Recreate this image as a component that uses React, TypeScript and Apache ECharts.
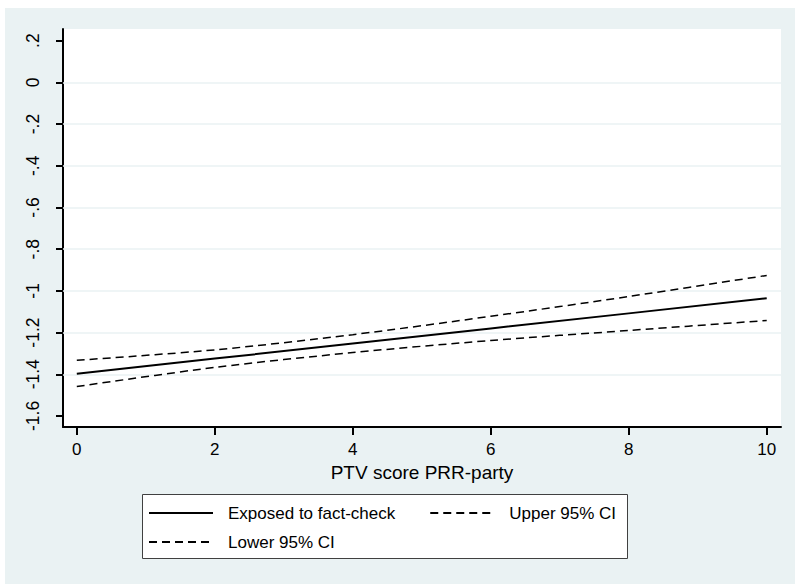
import React, { useEffect, useRef } from "react";
import * as echarts from "echarts";

const xValues = [0, 2, 4, 6, 8, 10];
const exposed = [-1.398, -1.325, -1.253, -1.18, -1.108, -1.035];
const upper = [-1.333, -1.283, -1.21, -1.122, -1.027, -0.926];
const lower = [-1.459, -1.367, -1.296, -1.238, -1.19, -1.142];
const yTicks = [-1.6, -1.4, -1.2, -1, -0.8, -0.6, -0.4, -0.2, 0, 0.2];
const yGrid = [-1.4, -1.2, -1, -0.8, -0.6, -0.4, -0.2, 0];
const xTicks = [0, 2, 4, 6, 8, 10];
const names = ["Exposed to fact-check", "Upper 95% CI", "Lower 95% CI"];

const FONT = "Liberation Sans, Arial, Helvetica, sans-serif";
const BG = "#EAF2F3";

function fmtY(v: number): string {
  const r = Math.round(v * 10) / 10;
  let s = r.toString();
  s = s.replace(/^(-?)0\./, "$1.");
  return s;
}

export default function App() {
  const ref = useRef<HTMLDivElement>(null);
  useEffect(() => {
    if (!ref.current) return;
    const chart = echarts.init(ref.current, undefined, { renderer: "svg" });
    const pair = (ys: number[]) => xValues.map((x, i) => [x, ys[i]]);
    const legendText = { fontSize: 17, color: "#000", fontFamily: FONT, lineHeight: 20, padding: [0, 0, 0, 10] };
    chart.setOption({
      animation: false,
      backgroundColor: BG,
      textStyle: { fontFamily: FONT },
      grid: {
        left: 58,
        top: 21,
        width: 718,
        height: 398,
        show: true,
        backgroundColor: "#ffffff",
        borderWidth: 0,
      },
      xAxis: {
        type: "value",
        min: -0.2,
        max: 10.207,
        name: "PTV score PRR-party",
        nameLocation: "middle",
        nameGap: 36,
        nameTextStyle: { fontSize: 19, color: "#000", fontFamily: FONT },
        axisLine: { show: true, onZero: false, lineStyle: { color: "#000", width: 2 } },
        axisTick: { show: true, length: 8, customValues: xTicks, lineStyle: { color: "#000", width: 2 } },
        axisLabel: {
          customValues: xTicks,
          fontSize: 17,
          color: "#000",
          margin: 14,
          fontFamily: FONT,
          formatter: (v: number) => String(v),
        },
        splitLine: { show: false },
      },
      yAxis: {
        type: "value",
        min: -1.653,
        max: 0.256,
        axisLine: { show: true, onZero: false, lineStyle: { color: "#000", width: 2 } },
        axisTick: { show: true, length: 7, customValues: yTicks, lineStyle: { color: "#000", width: 2 } },
        axisLabel: {
          customValues: yTicks,
          rotate: 90,
          fontSize: 17.5,
          color: "#000",
          margin: 21,
          fontFamily: FONT,
          formatter: (v: number) => fmtY(v),
        },
        splitLine: { show: false },
      },
      legend: [
        {
          data: [names[0], names[1]],
          left: 143,
          top: 495,
          orient: "horizontal",
          padding: 0,
          itemWidth: 64,
          itemHeight: 14,
          itemGap: 34,
          itemStyle: { opacity: 0 },
          textStyle: legendText,
        },
        {
          data: [names[2]],
          left: 143,
          top: 524,
          orient: "horizontal",
          padding: 0,
          itemWidth: 64,
          itemHeight: 14,
          itemStyle: { opacity: 0 },
          textStyle: legendText,
        },
      ],
      graphic: [
        {
          type: "rect",
          z: 0,
          shape: { x: 137.5, y: 486.5, width: 485, height: 64 },
          style: { fill: "#ffffff", stroke: "#404040", lineWidth: 1 },
        },
      ],
      series: [
        {
          type: "line",
          name: "__grid",
          data: [],
          z: 1,
          silent: true,
          markLine: {
            silent: true,
            z: 1,
            symbol: "none",
            label: { show: false },
            lineStyle: { color: BG, width: 1.5, type: "solid" },
            data: yGrid.map((v) => ({ yAxis: v })),
          },
        },
        {
          type: "line",
          name: names[0],
          data: pair(exposed),
          symbol: "none",
          z: 3,
          lineStyle: { color: "#000", width: 2, type: "solid" },
          itemStyle: { color: "#000" },
        },
        {
          type: "line",
          name: names[1],
          data: pair(upper),
          symbol: "none",
          smooth: 0.3,
          z: 3,
          lineStyle: { color: "#000", width: 1.5, type: [8, 5] },
          itemStyle: { color: "#000" },
        },
        {
          type: "line",
          name: names[2],
          data: pair(lower),
          symbol: "none",
          smooth: 0.3,
          z: 3,
          lineStyle: { color: "#000", width: 1.5, type: [8, 5] },
          itemStyle: { color: "#000" },
        },
      ],
    });
    return () => chart.dispose();
  }, []);
  return (
    <div style={{ position: "absolute", left: 0, top: 0, width: 795, height: 584, background: "#ffffff" }}>
      <div ref={ref} style={{ position: "absolute", left: 5, top: 8, width: 790, height: 576 }} />
    </div>
  );
}
